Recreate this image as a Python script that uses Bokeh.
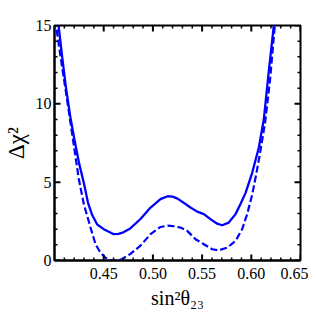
from bokeh.plotting import figure
from bokeh.models import Range1d, FixedTicker, ColumnDataSource
from bokeh.embed import file_html
from bokeh.resources import INLINE

# --- data ---
solid_x = [0.4000, 0.4041, 0.4080, 0.4115, 0.4160, 0.4200, 0.4250, 0.4300, 0.4340, 0.4383,
           0.4434, 0.4500, 0.4552, 0.4603, 0.4650, 0.4700, 0.4770, 0.4874, 0.4976, 0.5077,
           0.5150, 0.5200, 0.5250, 0.5320, 0.5382, 0.5450, 0.5518, 0.5585, 0.5653, 0.5704,
           0.5771, 0.5840, 0.5890, 0.5941, 0.6009, 0.6076, 0.6127, 0.6178, 0.6229, 0.6260]
solid_y = [16.5, 15.0, 12.9, 11.1, 9.2, 7.8, 6.2, 4.9, 3.7, 2.9,
           2.3, 2.0, 1.84, 1.68, 1.70, 1.80, 2.05, 2.65, 3.38, 3.92,
           4.10, 4.08, 3.95, 3.65, 3.38, 3.12, 2.96, 2.64, 2.35, 2.25,
           2.42, 2.96, 3.6, 4.3, 5.6, 7.2, 9.0, 12.1, 15.0, 16.5]

dash_x = [0.4000, 0.4027, 0.4078, 0.4115, 0.4160, 0.4200, 0.4247, 0.4298, 0.4366, 0.4417,
          0.4467, 0.4518, 0.4569, 0.4610, 0.4650, 0.4688, 0.4772, 0.4874, 0.4976, 0.5077,
          0.5150, 0.5200, 0.5280, 0.5349, 0.5433, 0.5518, 0.5603, 0.5670, 0.5755, 0.5840,
          0.5907, 0.5958, 0.6009, 0.6050, 0.6090, 0.6140, 0.6190, 0.6239, 0.6270]
dash_y = [16.0, 14.5, 12.3, 10.8, 8.9, 7.2, 5.2, 3.6, 2.1, 1.04,
          0.5, 0.18, 0.02, 0.0, 0.03, 0.1, 0.42, 0.95, 1.68, 2.14,
          2.22, 2.20, 2.10, 1.89, 1.36, 1.04, 0.72, 0.65, 0.82, 1.25,
          2.0, 2.96, 4.2, 5.5, 6.9, 8.8, 11.5, 15.0, 17.0]

x_ticks = [0.45, 0.50, 0.55, 0.60, 0.65]
x_tick_labels = ["0.45", "0.50", "0.55", "0.60", "0.65"]
x_minor = [0.41, 0.42, 0.43, 0.44, 0.46, 0.47, 0.48, 0.49, 0.51, 0.52, 0.53, 0.54,
           0.56, 0.57, 0.58, 0.59, 0.61, 0.62, 0.63, 0.64]
y_ticks = [0, 5, 10, 15]
y_tick_labels = ["0", "5", "10", "15"]
y_minor = [1, 2, 3, 4, 6, 7, 8, 9, 11, 12, 13, 14]

FONT = "Liberation Serif"
BLUE = "#0000ff"

X0, X1 = 0.40, 0.65
Y0, Y1 = 0.0, 15.0
FW, FH = 246, 235
BL, BR, BT, BB = 46, 8, 25, 48

p = figure(frame_width=FW, frame_height=FH, output_backend="svg", toolbar_location=None,
           x_range=Range1d(X0, X1), y_range=Range1d(Y0, Y1),
           min_border_left=BL, min_border_right=BR, min_border_top=BT, min_border_bottom=BB,
           background_fill_color="white", border_fill_color="white")
p.grid.visible = False
p.outline_line_color = "black"
p.outline_line_width = 2

p.line(solid_x, solid_y, line_color=BLUE, line_width=2.3)
p.line(dash_x, dash_y, line_color=BLUE, line_width=2.2, line_dash="7 3")

# inward ticks on all four sides (lengths in pixels converted through the scales)
dx = (X1 - X0) / FW
dy = (Y1 - Y0) / FH
MAJ, MIN = 6, 3
xs, ys, ws = [], [], []


def add_x(ticks, L, w):
    for t in ticks:
        xs.append([t, t]); ys.append([Y0, Y0 + L * dy]); ws.append(w)
        xs.append([t, t]); ys.append([Y1, Y1 - L * dy]); ws.append(w)


def add_y(ticks, L, w):
    for t in ticks:
        xs.append([X0, X0 + L * dx]); ys.append([t, t]); ws.append(w)
        xs.append([X1, X1 - L * dx]); ys.append([t, t]); ws.append(w)


add_x(x_ticks, MAJ, 2.0)
add_x(x_minor, MIN, 1.5)
add_y(y_ticks, MAJ, 2.0)
add_y(y_minor, MIN, 1.5)
tick_src = ColumnDataSource(data=dict(xs=xs, ys=ys, w=ws))
p.multi_line(xs="xs", ys="ys", line_width="w", line_color="black", source=tick_src)


def style(ax):
    ax.axis_line_color = "black"
    ax.axis_line_width = 2
    ax.major_tick_in = 0
    ax.major_tick_out = 0
    ax.minor_tick_in = 0
    ax.minor_tick_out = 0
    ax.major_label_text_font = FONT
    ax.major_label_text_font_size = "16px"
    ax.major_label_text_color = "black"
    ax.axis_label_text_font = FONT
    ax.axis_label_text_font_style = "normal"
    ax.axis_label_text_color = "black"


xa = p.xaxis[0]
xa.ticker = FixedTicker(ticks=x_ticks, minor_ticks=x_minor)
xa.major_label_overrides = {t: s for t, s in zip(x_ticks, x_tick_labels)}
style(xa)
xa.major_label_standoff = 7
xa.axis_label = "sin²θ₂₃"
xa.axis_label_text_font_size = "20px"
xa.axis_label_standoff = 5

ya = p.yaxis[0]
ya.ticker = FixedTicker(ticks=y_ticks, minor_ticks=y_minor)
ya.major_label_overrides = {t: s for t, s in zip(y_ticks, y_tick_labels)}
style(ya)
ya.major_label_standoff = 3
ya.axis_label = "Δχ²"
ya.axis_label_text_font_size = "23px"
ya.axis_label_standoff = 4

open("out.html", "w").write(file_html(p, INLINE))
